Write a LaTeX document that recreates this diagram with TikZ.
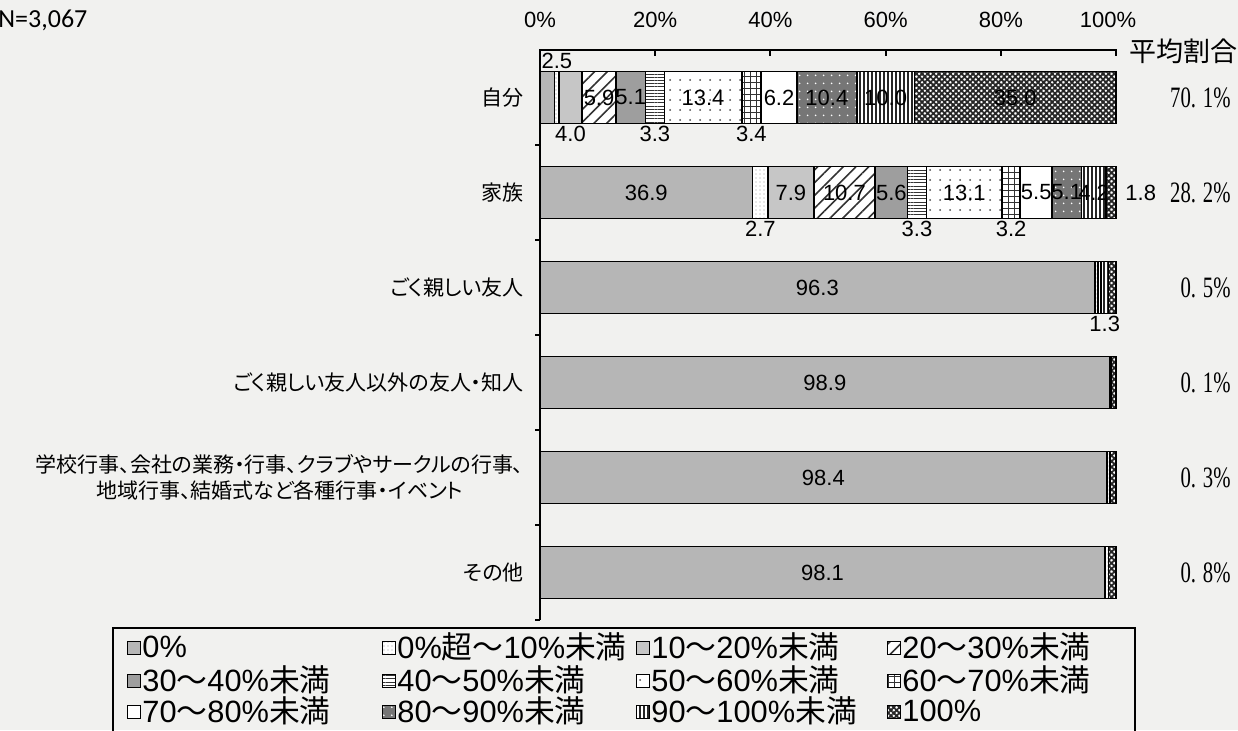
\documentclass[tikz,border=0pt]{standalone}
\usepackage{fontspec}
\setmainfont{Liberation Sans}
\newfontfamily\jpfont{Noto Sans CJK JP}
\newfontfamily\jppfont[RawFeature=+palt]{Noto Sans CJK JP}
\newfontfamily\nfont{Carlito}
\newfontfamily\avgfont[FakeStretch=0.7]{Liberation Serif}
\usetikzlibrary{patterns.meta}
\definecolor{paper}{RGB}{241,241,239}
\definecolor{gray0}{RGB}{182,182,182}
\definecolor{gray10}{RGB}{198,198,198}
\definecolor{gray30}{RGB}{158,158,158}
\definecolor{gray80}{RGB}{118,118,118}
\newcommand{\legendband}[2]{#1{\jpfont ～}#2\%{\jpfont 未満}}
\tikzset{
  seg/.style={draw=black, line width=0.9pt},
  share0/.style={seg, fill=gray0},
  share5/.style={seg, preaction={fill=white}, pattern={Dots[distance=2pt, radius=0.35pt]}, pattern color=gray!80},
  share10/.style={seg, fill=gray10},
  share20/.style={seg, preaction={fill=white}, pattern={Lines[angle=45, distance=4.5pt, line width=0.8pt]}, pattern color=black!80},
  share30/.style={seg, fill=gray30},
  share40/.style={seg, preaction={fill=white}, pattern={Lines[angle=0, distance=1.6pt, line width=0.4pt]}, pattern color=black!80},
  share50/.style={seg, preaction={fill=white}, pattern={Dots[distance=5pt, radius=0.5pt]}, pattern color=black!70},
  share60/.style={seg, preaction={fill=white}, pattern={Hatch[angle=0, distance=3pt, line width=0.4pt]}, pattern color=black!80},
  share70/.style={seg, fill=white},
  share80/.style={seg, preaction={fill=gray80}, pattern={Dots[distance=4pt, radius=0.5pt]}, pattern color=white},
  share90/.style={seg, preaction={fill=white}, pattern={Lines[angle=90, distance=2pt, line width=0.6pt]}, pattern color=black!85},
  share100/.style={seg, preaction={fill=white}, pattern={Hatch[angle=45, distance=2pt, line width=0.9pt]}, pattern color=black!85},
  axisline/.style={line width=1pt},
  val/.style={font=\fontsize{11}{12}\selectfont, inner sep=0pt},
  cat/.style={font=\jppfont\fontsize{10.5}{13}\selectfont, anchor=east, align=center, inner sep=0pt},
  avg/.style={font=\avgfont\fontsize{14.8}{16}\selectfont, anchor=east, inner sep=0pt},
  key/.style={font=\fontsize{15.4}{17}\selectfont, anchor=west, inner sep=0pt},
  keybox/.style={line width=0.5pt},
}
\begin{document}
\begin{tikzpicture}[x=0.5pt,y=-0.5pt]
\useasboundingbox[fill=paper] (0,0) rectangle (1238,730);

% titles and axis
\node[anchor=west, inner sep=0pt, font=\nfont\fontsize{13}{15}\selectfont] (count) at (-2,20) {N=3,067};
\node[anchor=west, inner sep=0pt, font=\jpfont\fontsize{13.5}{15}\selectfont] (avghead) at (1129,51) {平均割合};
\node[val] (p0) at (540,20) {0\%};
\node[val] (p20) at (655.2,20) {20\%};
\node[val] (p40) at (770.4,20) {40\%};
\node[val] (p60) at (885.6,20) {60\%};
\node[val] (p80) at (1000.8,20) {80\%};
\node[val] (p100) at (1108,20) {100\%};
\draw[axisline] (540,620) -- (540,50) -- (1116,50) -- (1116,56);
\draw[axisline] (655.2,50) -- (655.2,56);
\draw[axisline] (770.4,50) -- (770.4,56);
\draw[axisline] (885.6,50) -- (885.6,56);
\draw[axisline] (1000.8,50) -- (1000.8,56);
\draw[axisline] (535,145) -- (540,145);
\draw[axisline] (535,240) -- (540,240);
\draw[axisline] (535,335) -- (540,335);
\draw[axisline] (535,430) -- (540,430);
\draw[axisline] (535,525) -- (540,525);
\draw[axisline] (535,620) -- (540,620);

% category labels
\node[cat] (self) at (524,97.5) {自分};
\node[cat] (family) at (524,192.5) {家族};
\node[cat] (close) at (524,287.5) {ごく親しい友人};
\node[cat] (friend) at (524,382.5) {ごく親しい友人以外の友人・知人};
\node[cat] (event) at (524,477.5) {学校行事、会社の業務・行事、クラブやサークルの行事、\\地域行事、結婚式など各種行事・イベント};
\node[cat] (other) at (524,572.5) {その他};

% bars, x in percent
\begin{scope}[shift={(540,0)}, x=2.88pt]
% self
\draw[share0] (0,71.5) rectangle (2.5,123.5);
\draw[share5] (2.5,71.5) rectangle (3.3,123.5);
\draw[share10] (3.3,71.5) rectangle (7.3,123.5);
\draw[share20] (7.3,71.5) rectangle (13.2,123.5);
\draw[share30] (13.2,71.5) rectangle (18.3,123.5);
\draw[share40] (18.3,71.5) rectangle (21.6,123.5);
\draw[share50] (21.6,71.5) rectangle (35.0,123.5);
\draw[share60] (35.0,71.5) rectangle (38.4,123.5);
\draw[share70] (38.4,71.5) rectangle (44.6,123.5);
\draw[share80] (44.6,71.5) rectangle (55.0,123.5);
\draw[share90] (55.0,71.5) rectangle (65.0,123.5);
\draw[share100] (65.0,71.5) rectangle (100,123.5);
\node[val, anchor=west] (s0) at (0.2,60.5) {2.5};
\node[val] (s10) at (5.3,133.5) {4.0};
\node[val] (s20) at (10.25,97.5) {5.9};
\node[val] (s30) at (15.75,97.5) {5.1};
\node[val] (s40) at (19.95,133.5) {3.3};
\node[val] (s50) at (28.3,97.5) {13.4};
\node[val] (s60) at (36.7,133.5) {3.4};
\node[val] (s70) at (41.5,97.5) {6.2};
\node[val] (s80) at (49.8,97.5) {10.4};
\node[val] (s90) at (60,97.5) {10.0};
\node[val] (s100) at (82.5,97.5) {35.0};
% family
\draw[share0] (0,166.5) rectangle (36.9,218.5);
\draw[share5] (36.9,166.5) rectangle (39.6,218.5);
\draw[share10] (39.6,166.5) rectangle (47.5,218.5);
\draw[share20] (47.5,166.5) rectangle (58.2,218.5);
\draw[share30] (58.2,166.5) rectangle (63.8,218.5);
\draw[share40] (63.8,166.5) rectangle (67.1,218.5);
\draw[share50] (67.1,166.5) rectangle (80.2,218.5);
\draw[share60] (80.2,166.5) rectangle (83.4,218.5);
\draw[share70] (83.4,166.5) rectangle (88.9,218.5);
\draw[share80] (88.9,166.5) rectangle (94.0,218.5);
\draw[share90] (94.0,166.5) rectangle (98.2,218.5);
\draw[share100] (98.2,166.5) rectangle (100,218.5);
\node[val] (f0) at (18.45,192.5) {36.9};
\node[val] (f5) at (38.25,228.5) {2.7};
\node[val] (f10) at (43.55,192.5) {7.9};
\node[val] (f20) at (52.85,192.5) {10.7};
\node[val] (f30) at (61.0,192.5) {5.6};
\node[val] (f40) at (65.45,228.5) {3.3};
\node[val] (f50) at (73.65,192.5) {13.1};
\node[val] (f60) at (81.8,228.5) {3.2};
\node[val] (f70) at (86.15,192.5) {5.5};
\node[val] (f80) at (91.45,192.5) {5.1};
\node[val] (f90) at (96.1,192.5) {4.2};
\node[val] (f100) at (104.3,192.5) {1.8};
% close friends
\draw[share0] (0,261.5) rectangle (96.3,313.5);
\draw[share5] (96.3,261.5) rectangle (96.9,313.5);
\draw[share70] (96.9,261.5) rectangle (97.4,313.5);
\draw[share90] (97.4,261.5) rectangle (98.7,313.5);
\draw[share100] (98.7,261.5) rectangle (100,313.5);
\node[val] (c0) at (48.15,287.5) {96.3};
\node[val] (c90) at (98.05,323.5) {1.3};
% other friends
\draw[share0] (0,356.5) rectangle (98.9,408.5);
\draw[share5] (98.9,356.5) rectangle (99.2,408.5);
\draw[share100] (99.2,356.5) rectangle (100,408.5);
\node[val] (o0) at (49.45,382.5) {98.9};
% events
\draw[share0] (0,451.5) rectangle (98.4,503.5);
\draw[share5] (98.4,451.5) rectangle (98.9,503.5);
\draw[share100] (98.9,451.5) rectangle (100,503.5);
\node[val] (e0) at (49.2,477.5) {98.4};
% other
\draw[share0] (0,546.5) rectangle (98.1,598.5);
\draw[share5] (98.1,546.5) rectangle (98.7,598.5);
\draw[share100] (98.7,546.5) rectangle (100,598.5);
\node[val] (t0) at (49.05,572.5) {98.1};
\end{scope}

% average share
\node[avg] (a1) at (1231,97.5) {70. 1\%};
\node[avg] (a2) at (1231,192.5) {28. 2\%};
\node[avg] (a3) at (1231,287.5) {0. 5\%};
\node[avg] (a4) at (1231,382.5) {0. 1\%};
\node[avg] (a5) at (1231,477.5) {0. 3\%};
\node[avg] (a6) at (1231,572.5) {0. 8\%};

% legend
\draw[line width=1pt] (113,628) rectangle (1135,745);
\draw[share0, keybox] (127,641) rectangle (140,654);
\node[key] (k0) at (142,647) {0\%};
\draw[share5, keybox] (382,641) rectangle (395,654);
\node[key] (k5) at (397,647) {0\%{\jpfont 超～}10\%{\jpfont 未満}};
\draw[share10, keybox] (636,641) rectangle (649,654);
\node[key] (k10) at (651,647) {\legendband{10}{20}};
\draw[share20, keybox] (887,641) rectangle (900,654);
\node[key] (k20) at (902,647) {\legendband{20}{30}};
\draw[share30, keybox] (127,674) rectangle (140,687);
\node[key] (k30) at (142,680) {\legendband{30}{40}};
\draw[share40, keybox] (382,674) rectangle (395,687);
\node[key] (k40) at (397,680) {\legendband{40}{50}};
\draw[share50, keybox] (636,674) rectangle (649,687);
\node[key] (k50) at (651,680) {\legendband{50}{60}};
\draw[share60, keybox] (887,674) rectangle (900,687);
\node[key] (k60) at (902,680) {\legendband{60}{70}};
\draw[share70, keybox] (127,705) rectangle (140,718);
\node[key] (k70) at (142,711) {\legendband{70}{80}};
\draw[share80, keybox] (382,705) rectangle (395,718);
\node[key] (k80) at (397,711) {\legendband{80}{90}};
\draw[share90, keybox] (636,705) rectangle (649,718);
\node[key] (k90) at (651,711) {\legendband{90}{100}};
\draw[share100, keybox] (887,705) rectangle (900,718);
\node[key] (k100) at (902,711) {100\%};
\end{tikzpicture}
\end{document}
